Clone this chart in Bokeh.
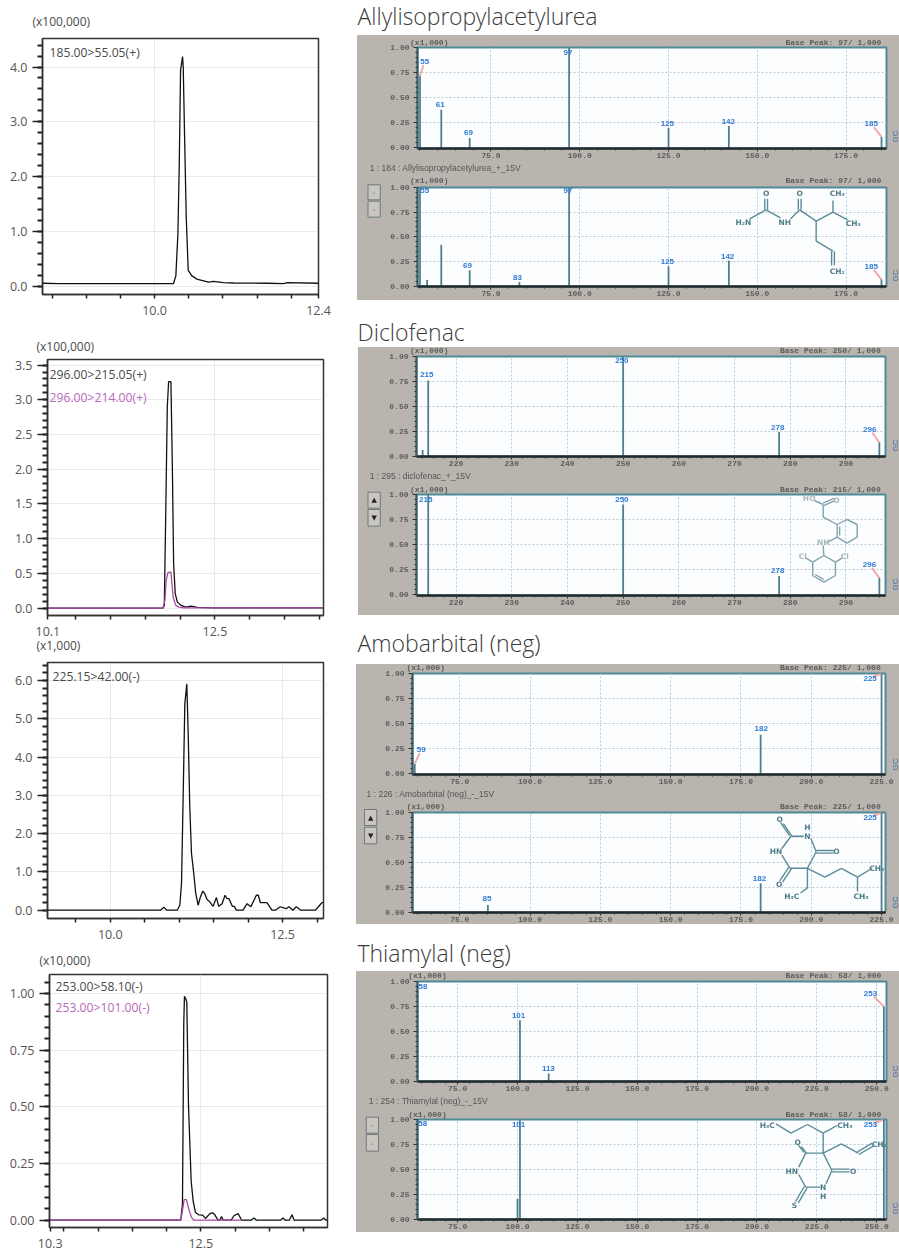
from bokeh.plotting import figure
from bokeh.layouts import row, column
from bokeh.models import (FixedTicker, Label, Spacer)
from bokeh.core.properties import value
from bokeh.embed import file_html
from bokeh.resources import INLINE

# ---------- chromatogram data ----------
c1_t = [8.36, 8.6, 9.0, 9.5, 10.0, 10.278, 10.312, 10.342, 10.361, 10.381, 10.41, 10.42, 10.439, 10.464, 10.493,
        10.547, 10.62, 10.717, 10.79, 10.864, 11.01, 11.157, 11.645, 11.889, 11.94, 12.4]
c1_y = [0.055, 0.05, 0.05, 0.05, 0.05, 0.05, 0.19, 0.955, 2.17, 3.94, 4.19, 4.0, 2.78, 1.26, 0.29,
        0.19, 0.13, 0.10, 0.075, 0.09, 0.067, 0.06, 0.055, 0.05, 0.065, 0.055]

c2_t = [10.1, 11.754, 11.773, 11.79, 11.816, 11.835, 11.868, 11.888, 11.907, 11.93, 11.96, 12.007, 12.08, 12.16, 12.246, 12.486, 14.06]
c2_y = [0.0, 0.0, 0.04, 1.12, 2.9, 3.26, 3.26, 2.08, 0.64, 0.21, 0.09, 0.043, 0.015, 0.03, 0.01, 0.005, 0.005]
c2m_t = [10.1, 11.754, 11.782, 11.80, 11.825, 11.868, 11.883, 11.90, 11.935, 11.983, 12.055, 14.06]
c2m_y = [0.0, 0.0, 0.115, 0.40, 0.51, 0.52, 0.355, 0.16, 0.043, 0.015, 0.005, 0.005]

c3_t = [9.09, 10.729, 10.777, 10.816, 10.97, 11.009, 11.033, 11.057, 11.081, 11.11, 11.129, 11.153, 11.178, 11.211, 11.24,
        11.274, 11.308, 11.342, 11.371, 11.404, 11.443, 11.491, 11.54, 11.573, 11.622, 11.665, 11.694, 11.723, 11.771, 11.80,
        11.829, 11.926, 11.984, 12.04, 12.119, 12.148, 12.177, 12.273, 12.346, 12.394, 12.466, 12.553, 12.592, 12.65, 12.698,
        12.766, 12.973, 13.021, 13.07, 13.094]
c3_y = [0.0, 0.0, 0.08, 0.0, 0.0, 0.13, 0.70, 2.96, 5.39, 5.91, 4.70, 2.70, 1.48, 0.96, 0.43,
        0.13, 0.35, 0.50, 0.43, 0.28, 0.22, 0.10, 0.33, 0.10, 0.17, 0.39, 0.30, 0.30, 0.10, 0.10,
        0.0, 0.0, 0.17, 0.09, 0.39, 0.39, 0.20, 0.20, 0.0, 0.0, 0.09, 0.04, 0.09, 0.0, 0.09,
        0.0, 0.0, 0.09, 0.20, 0.20]

c4_t = [10.29, 12.207, 12.232, 12.251, 12.261, 12.28, 12.295, 12.32, 12.359, 12.388, 12.422, 12.471, 12.524, 12.568, 12.632,
        12.671, 12.705, 12.749, 12.778, 12.802, 12.827, 12.944, 12.983, 13.046, 13.095, 13.237, 13.276, 13.31, 13.666, 13.7,
        13.729, 13.793, 13.832, 13.861, 14.261, 14.295, 14.324, 14.35]
c4_y = [0.0, 0.0, 0.07, 0.868, 0.988, 0.977, 0.962, 0.505, 0.171, 0.084, 0.033, 0.023, 0.022, 0.007, 0.028,
        0.032, 0.023, 0.0, 0.0, 0.015, 0.0, 0.0, 0.019, 0.028, 0.0, 0.0, 0.009, 0.0, 0.0, 0.009,
        0.0, 0.0, 0.023, 0.0, 0.0, 0.009, 0.0, 0.0]
c4m_t = [10.29, 12.207, 12.232, 12.256, 12.29, 12.324, 12.363, 12.398, 13.105]
c4m_y = [0.0, 0.0, 0.041, 0.09, 0.09, 0.048, 0.012, 0.0, 0.0]

# ---------- spectra data: m/z, relative intensity, peak labels ----------
s1a_mz = [55, 61, 69, 97, 125, 142, 185]
s1a_i = [0.72, 0.38, 0.10, 1.0, 0.20, 0.22, 0.11]
s1a_lab = ["55", "61", "69", "97", "125", "142", "185"]
s1b_mz = [55, 57, 61, 69, 83, 97, 125, 142, 185]
s1b_i = [1.0, 0.06, 0.42, 0.16, 0.04, 1.0, 0.20, 0.26, 0.065]
s1b_lab = ["55", "", "", "69", "83", "97", "125", "142", "185"]

s2a_mz = [214, 215, 250, 278, 296]
s2a_i = [0.06, 0.76, 1.0, 0.24, 0.135]
s2a_lab = ["", "215", "250", "278", "296"]
s2b_mz = [215, 250, 278, 296]
s2b_i = [1.0, 0.90, 0.19, 0.17]
s2b_lab = ["215", "250", "278", "296"]

s3a_mz = [59, 182, 225]
s3a_i = [0.10, 0.39, 1.0]
s3a_lab = ["59", "182", "225"]
s3b_mz = [85, 182, 225]
s3b_i = [0.07, 0.29, 1.0]
s3b_lab = ["85", "182", "225"]

s4a_mz = [58, 101, 113, 253]
s4a_i = [1.0, 0.61, 0.075, 0.75]
s4a_lab = ["58", "101", "113", "253"]
s4b_mz = [58, 100, 101, 253]
s4b_i = [1.0, 0.20, 1.0, 1.0]
s4b_lab = ["58", "", "101", "253"]

titles = ["Allylisopropylacetylurea", "Diclofenac", "Amobarbital (neg)", "Thiamylal (neg)"]
captions = ["1 : 184 : Allylisopropylacetylurea_+_15V", "1 : 295 : diclofenac_+_15V",
            "1 : 226 : Amobarbital (neg)_-_15V", "1 : 254 : Thiamylal (neg)_-_15V"]

FONT = "Open Sans"
INK = "#4a4a4a"
MAG = "#b768bb"
MAGL = "#a84aa8"
LEFTW = 356
PAGE_W, PAGE_H = 899, 1250
GRAY = "#b9b5ae"

# texts and buttons that lie outside a plot frame go on full-page overlays
unit_texts = []
mono_left, mono_right, caption_texts, button_marks, edge_texts, button_boxes = [], [], [], [], [], []


def mapper(lo, hi, a, b):
    return lambda v: a + (v - lo) / (hi - lo) * (b - a)


def chrom(region, frame, xr, yr, xmajor, xlabels, xminor, ymajor, yminor, yfmt, traces, texts, unit):
    top, bottom = region
    fl, fr, ft, fb = frame
    p = figure(width=LEFTW, height=bottom - top, x_range=xr, y_range=yr, output_backend="svg",
               toolbar_location=None, min_border_left=fl, min_border_right=LEFTW - fr,
               min_border_top=ft - top, min_border_bottom=bottom - fb, frame_align=False)
    p.outline_line_color = "#333333"
    p.outline_line_width = 1.5
    p.background_fill_color = "white"
    fx = mapper(fl, fr, *xr)
    fy = mapper(fb, ft, *yr)
    for ax in (p.xaxis[0], p.yaxis[0]):
        ax.axis_line_color = "#333333"
        ax.axis_line_width = 1.5
        ax.major_tick_line_color = "#222222"
        ax.minor_tick_line_color = "#222222"
        ax.major_label_text_font = FONT
        ax.major_label_text_font_size = "12.5px"
        ax.major_label_text_color = "#555555"
        ax.major_tick_in = 0
        ax.minor_tick_in = 0
    xa = p.xaxis[0]
    xa.ticker = FixedTicker(ticks=xmajor, minor_ticks=xminor)
    xa.major_label_overrides = {k: v for k, v in zip(xmajor, xlabels)}
    xa.major_tick_out = 4
    xa.minor_tick_out = 4
    xa.major_tick_line_width = 1.5
    xa.minor_tick_line_width = 1.5
    xa.major_label_standoff = 7
    ya = p.yaxis[0]
    ya.ticker = FixedTicker(ticks=ymajor, minor_ticks=yminor)
    ya.major_label_overrides = {k: yfmt % k for k in ymajor}
    ya.major_tick_out = 10
    ya.minor_tick_out = 5
    ya.major_tick_line_width = 1.5
    ya.minor_tick_line_width = 2
    ya.major_label_standoff = 5
    p.grid.grid_line_color = "#d4d4d4"
    p.grid.grid_line_dash = "1 1"
    p.grid.grid_line_width = 1
    for t, y, c in traces:
        p.line(t, y, line_color=c, line_width=1.3)
    for txt, px, py, c in texts:
        p.add_layout(Label(x=fx(px), y=fy(py), text=txt, text_font=FONT, text_font_size="12.2px",
                           text_color=c, text_baseline="middle", text_align="left"))
    unit_texts.append(unit)
    return p


def spectrum(fleft, region, frame, off, xr, xmajor, xminor, xfmt, mz, inten, labs, lblpos, lead, bpeak, caption=None,
             buttons=None, btn_dark=False, bonds=None, atoms=None, edge=None, struct_color="#5a8c9a",
             atom_color="#4f7d8b"):
    top, bottom = region
    fl, fr, ft, fb = frame
    yr = (-0.005, 1.0)
    p = figure(width=899 - fleft, height=bottom - top, x_range=xr, y_range=yr, output_backend="svg",
               toolbar_location=None, min_border_left=fl - fleft, min_border_right=899 - fr,
               min_border_top=ft - top, min_border_bottom=bottom - fb, frame_align=False,
               border_fill_color=GRAY, background_fill_color="#fcfdfe")
    p.stylesheets = [":host { filter: blur(0.55px); }"]
    p.outline_line_color = "#4f8a98"
    p.outline_line_width = 2
    fx = mapper(fl, fr, *xr)
    fy = mapper(fb, ft, *yr)
    zx = lambda z: fx(350 + z / 2.856)
    zy = lambda z: fy(off + z / 3.0)
    cx = lambda z: 350 + z / 2.856
    cy = lambda z: off + z / 3.0
    for ax in (p.xaxis[0], p.yaxis[0]):
        ax.major_label_text_font = "Liberation Mono"
        ax.major_label_text_font_style = "bold"
        ax.major_label_text_font_size = "8px"
        ax.major_label_text_color = "#5c5c5c"
        ax.major_tick_in = 0
        ax.minor_tick_in = 0
        ax.major_tick_line_color = "#333333"
        ax.minor_tick_line_color = "#333333"
        ax.major_tick_line_width = 1
        ax.minor_tick_line_width = 1
    xa = p.xaxis[0]
    xa.ticker = FixedTicker(ticks=xmajor, minor_ticks=xminor)
    xa.major_label_overrides = {k: xfmt % k for k in xmajor}
    xa.axis_line_color = "#20282c"
    xa.axis_line_width = 2.5
    xa.major_tick_out = 3
    xa.minor_tick_out = 2
    xa.major_label_standoff = 1
    ya = p.yaxis[0]
    ym = [0.0, 0.25, 0.5, 0.75, 1.0]
    ya.ticker = FixedTicker(ticks=ym, minor_ticks=[i * 0.05 for i in range(21)])
    ya.major_label_overrides = {k: "%.2f" % k for k in ym}
    ya.axis_line_color = "#3c5a64"
    ya.axis_line_width = 2
    ya.major_tick_out = 4
    ya.minor_tick_out = 2
    ya.major_label_standoff = 4
    p.xgrid.grid_line_color = "#a6cfe2"
    p.xgrid.grid_line_dash = "2 2"
    p.ygrid.grid_line_color = "#bcc8d0"
    p.ygrid.grid_line_dash = "2 2"

    # leaders, then bars, then labels
    lx0, ly0, lx1, ly1 = [], [], [], []
    tx, ty, tt = [], [], []
    for m, i, lab, pos, ld in zip(mz, inten, labs, lblpos, lead):
        if lab:
            x, y = zx(pos[0]), zy(pos[1])
            tx.append(x)
            ty.append(y)
            tt.append(lab)
            if ld:
                lx0.append(m)
                ly0.append(i)
                lx1.append(m + (x - m) * 0.75)
                ly1.append(i + (y - i) * 0.75)
    p.segment(lx0, ly0, lx1, ly1, line_color="#f4a9a9", line_width=2)
    p.segment(mz, [0] * len(mz), mz, inten, line_color="#4f7f8c", line_width=1.8)
    p.text(tx, ty, text=tt, text_font=value("Liberation Sans"), text_font_style="bold", text_font_size="8px",
           text_color="#2f7ad6", text_align="center", text_baseline="middle")

    if bonds:
        p.segment([zx(b[0]) for b in bonds], [zy(b[1]) for b in bonds],
                  [zx(b[2]) for b in bonds], [zy(b[3]) for b in bonds], line_color=struct_color, line_width=1.4)
    if atoms:
        p.text([zx(a[1]) for a in atoms], [zy(a[2]) for a in atoms], text=[a[0] for a in atoms],
               text_font=value("DejaVu Sans"), text_font_size="7.5px", text_font_style="bold",
               text_color=atom_color, text_align="center", text_baseline="middle")

    mono_left.append((cx(bpeak[0]), cy(bpeak[2]), "(x1,000)"))
    mono_right.append((cx(bpeak[1]), cy(bpeak[2]), bpeak[3]))
    if caption:
        caption_texts.append((cx(caption[1]), cy(caption[2]), caption[0]))
    if buttons:
        zl, zr, rows = buttons
        for i, (a, b) in enumerate(rows):
            button_boxes.append((cx(zl), cx(zr), cy(a), cy(b)))
            mark = ("\u25b2" if i == 0 else "\u25bc") if btn_dark else "-"
            button_marks.append((cx((zl + zr) / 2), cy((a + b) / 2), mark, "#222222" if btn_dark else "#555555"))
    if edge is not None:
        edge_texts.append((895, edge, "GC"))
    return p


def title_fig(text, h, yc):
    p = figure(width=543, height=h, x_range=(0, 543), y_range=(h, 0), output_backend="svg", toolbar_location=None,
               min_border_left=0, min_border_right=0, min_border_top=0, min_border_bottom=0,
               outline_line_color=None, frame_align=False, x_axis_location=None, y_axis_location=None)
    p.grid.visible = False
    p.add_layout(Label(x=1, y=yc, text=text, text_font="Open Sans Light, Open Sans", text_font_size="23px",
                       text_color="#3a3a3a", text_baseline="middle", text_align="left"))
    return p


def overlay():
    p = figure(width=PAGE_W, height=PAGE_H, x_range=(0, PAGE_W), y_range=(PAGE_H, 0), output_backend="svg",
               toolbar_location=None, min_border_left=0, min_border_right=0, min_border_top=0, min_border_bottom=0,
               outline_line_color=None, frame_align=False, x_axis_location=None, y_axis_location=None,
               background_fill_color=None, border_fill_color=None)
    p.grid.visible = False
    p.margin = (-PAGE_H, 0, 0, 0)
    return p


def cols(items):
    return [[it[k] for it in items] for k in range(len(items[0]))]


def panel(a, b, w):
    col = column(a, b, styles={"background-color": GRAY})
    if w == 0:
        return col
    return row(Spacer(width=w, height=a.height + b.height), col)


def dbl(x0, y0, x1, y1, dx=4, dy=0):
    return [(x0 - dx, y0 - dy, x1 - dx, y1 - dy), (x0 + dx, y0 + dy, x1 + dx, y1 + dy)]


# ---------- left column ----------
ch1 = chrom((0, 322), (42, 318, 38, 294), (8.36, 12.4), (-0.15, 4.52),
            [10.0, 12.4], ["10.0", "12.4"], [8.5, 9.0, 9.5, 10.5, 11.0, 11.5, 12.0],
            [0.0, 1.0, 2.0, 3.0, 4.0], [i * 0.2 for i in range(23)], "%.1f",
            [(c1_t, c1_y, "#111111")], [("185.00>55.05(+)", 49, 52, INK)], (32, 21, "(x100,000)"))
ch2 = chrom((322, 638), (47, 323, 359, 615), (10.095, 14.06), (-0.106, 3.58),
            [10.1, 12.5], ["10.1", "12.5"], [10.5, 11.0, 11.5, 12.0, 13.0, 13.5, 14.0],
            [0.0, 0.5, 1.0, 1.5, 2.0, 2.5, 3.0, 3.5], [i * 0.1 for i in range(36)], "%.1f",
            [(c2_t, c2_y, "#111111"), (c2m_t, c2m_y, MAGL)],
            [("296.00>215.05(+)", 49, 374, INK), ("296.00>214.00(+)", 49, 397, MAG)], (36, 346, "(x100,000)"))
ch3 = chrom((638, 944), (47, 323, 662, 918), (9.088, 13.094), (-0.217, 6.47),
            [10.0, 12.5], ["10.0", "12.5"], [9.5, 10.5, 11.0, 11.5, 12.0, 13.0],
            [0.0, 1.0, 2.0, 3.0, 4.0, 5.0, 6.0], [i * 0.2 for i in range(33)], "%.1f",
            [(c3_t, c3_y, "#111111")], [("225.15>42.00(-)", 52, 676, INK)], (36, 645, "(x1,000)"))
ch4 = chrom((944, 1250), (49, 327, 974, 1230), (10.29, 14.35), (-0.033, 1.084),
            [10.3, 12.5], ["10.3", "12.5"], [10.5, 11.0, 11.5, 12.0, 13.0, 13.5, 14.0],
            [0.0, 0.25, 0.5, 0.75, 1.0], [i * 0.05 for i in range(22)], "%.2f",
            [(c4_t, c4_y, "#111111"), (c4m_t, c4m_y, MAGL)],
            [("253.00>58.10(-)", 55, 986, INK), ("253.00>101.00(-)", 55, 1007, MAG)], (39, 960, "(x10,000)"))

# ---------- structures (drawing coordinates) ----------
st1_b = [(1140, 655, 1187, 628), *dbl(1187, 628, 1187, 595), (1187, 628, 1228, 652), (1257, 655, 1283, 628),
         *dbl(1283, 628, 1283, 595), (1283, 628, 1330, 662), (1330, 662, 1378, 635), (1378, 635, 1378, 600),
         (1378, 635, 1420, 658), (1330, 662, 1330, 722), (1330, 722, 1378, 752), *dbl(1378, 752, 1378, 795)]
st1_a = [("H\u2082N", 1122, 665), ("O", 1187, 578), ("NH", 1240, 665), ("O", 1283, 578), ("CH\u2083", 1390, 580),
         ("CH\u2083", 1436, 668), ("CH\u2082", 1390, 812)]
st2_b = [(1325, 540, 1350, 552), *dbl(1350, 552, 1382, 537, 0, 4), (1350, 552, 1350, 590), (1350, 590, 1390, 612),
         (1390, 612, 1418, 597), (1418, 597, 1447, 612), (1447, 612, 1447, 650), (1447, 650, 1418, 668),
         (1418, 668, 1390, 650), (1390, 650, 1390, 612), (1397, 618, 1397, 645), (1390, 650, 1358, 668),
         (1350, 675, 1352, 705), (1352, 705, 1385, 725), (1385, 725, 1385, 765), (1385, 765, 1352, 785),
         (1352, 785, 1320, 765), (1320, 765, 1320, 725), (1320, 725, 1352, 705), (1352, 777, 1327, 762),
         (1320, 725, 1300, 712), (1385, 725, 1405, 712)]
st2_a = [("HO", 1310, 535), ("O", 1388, 540), ("NH", 1350, 667), ("Cl", 1292, 708), ("Cl", 1412, 708)]
st3_b = [(1258, 618, 1295, 618), (1315, 625, 1330, 665), (1330, 665, 1305, 715), (1305, 715, 1255, 715),
         (1255, 715, 1232, 675), (1232, 655, 1258, 618), *dbl(1258, 618, 1232, 578, 4, 2), *dbl(1330, 665, 1380, 665, 0, 4),
         *dbl(1255, 715, 1230, 755, 4, 2), (1305, 715, 1355, 742), (1355, 742, 1402, 715), (1402, 715, 1448, 742),
         (1448, 742, 1490, 715), (1448, 742, 1448, 785), (1305, 715, 1305, 775), (1305, 775, 1285, 790)]
st3_a = [("H", 1305, 592), ("N", 1305, 618), ("O", 1226, 567), ("HN", 1215, 665), ("O", 1388, 665), ("O", 1224, 765),
         ("CH\u2083", 1503, 715), ("CH\u2083", 1458, 800), ("H\u2083C", 1260, 800)]
st4_b = [(1350, 638, 1375, 690), (1375, 690, 1358, 730), (1342, 740, 1300, 740), (1300, 740, 1280, 702),
         (1280, 680, 1300, 638), (1300, 638, 1350, 638), *dbl(1300, 638, 1283, 616, 4, 2), *dbl(1375, 690, 1425, 690, 0, 4),
         *dbl(1300, 740, 1275, 785, 4, 2), (1350, 638, 1350, 578), (1350, 578, 1390, 555), (1350, 578, 1305, 552),
         (1305, 552, 1258, 578), (1258, 578, 1215, 550), (1350, 638, 1402, 610), (1402, 610, 1450, 638),
         *dbl(1450, 638, 1492, 612, 2, 4)]
st4_a = [("O", 1277, 607), ("O", 1436, 692), ("HN", 1260, 692), ("N", 1350, 742), ("H", 1350, 768), ("S", 1268, 795),
         ("CH\u2083", 1412, 555), ("H\u2083C", 1190, 555), ("CH\u2082", 1510, 612)]

# ---------- spectra ----------
f5 = lambda a, b: [float(v) for v in range(a, b + 1, 5)]
t75 = [75.0, 100.0, 125.0, 150.0, 175.0]
P1 = dict(fleft=357, off=0, xr=(54.3, 186.4), xmajor=t75, xminor=f5(55, 185), xfmt="%.1f")
s1a = spectrum(region=(35, 175), frame=(417, 886, 47, 148), mz=s1a_mz, inten=s1a_i, labs=s1a_lab,
               lblpos=[(212, 183), (256, 313), (337, 396), (621, 155), (905, 369), (1079, 364), (1487, 369)],
               lead=[1, 0, 0, 0, 0, 0, 1], bpeak=(170, 1530, 125, "Base Peak: 97/  1,000"),
               caption=(captions[0], 55, 502), edge=136, **P1)
s1b = spectrum(region=(175, 300), frame=(417, 886, 187, 286), mz=s1b_mz, inten=s1b_i, labs=s1b_lab,
               lblpos=[(212, 571), None, None, (334, 796), (477, 830), (621, 571), (905, 784), (1077, 767), (1487, 798)],
               lead=[0, 0, 0, 0, 0, 0, 0, 0, 1], bpeak=(170, 1530, 541, "Base Peak: 97/  1,000"),
               buttons=(50, 85, [(553, 598), (602, 650)]), bonds=st1_b, atoms=st1_a, edge=275, **P1)

t2 = [220.0, 230.0, 240.0, 250.0, 260.0, 270.0, 280.0, 290.0]
P2 = dict(fleft=358, off=320, xr=(212.9, 297.1), xmajor=t2, xminor=[float(v) for v in range(214, 297, 2)], xfmt="%.0f")
s2a = spectrum(region=(347, 483), frame=(416, 885, 356, 456), mz=s2a_mz, inten=s2a_i, labs=s2a_lab,
               lblpos=[None, (218, 162), (775, 120), (1220, 320), (1483, 326)],
               lead=[0, 0, 0, 0, 1], bpeak=(170, 1528, 91, "Base Peak: 250/  1,000"),
               caption=(captions[1], 55, 467), edge=445, **P2)
s2b = spectrum(region=(483, 615), frame=(416, 885, 494, 595), mz=s2b_mz, inten=s2b_i, labs=s2b_lab,
               lblpos=[(215, 536), (775, 536), (1220, 750), (1482, 732)],
               lead=[0, 0, 0, 1], bpeak=(170, 1528, 506, "Base Peak: 215/  1,000"),
               buttons=(50, 85, [(515, 563), (567, 617)]), btn_dark=True, bonds=st2_b, atoms=st2_a, edge=584,
               struct_color="#7fa3ae", atom_color="#a9b8bd", **P2)

t3 = [75.0, 100.0, 125.0, 150.0, 175.0, 200.0, 225.0]
P3 = dict(fleft=356, off=630, xr=(58.2, 226.4), xmajor=t3, xminor=f5(60, 225), xfmt="%.1f")
s3a = spectrum(region=(664, 801), frame=(412, 885, 673, 774), mz=s3a_mz, inten=s3a_i, labs=s3a_lab,
               lblpos=[(202, 357), (1173, 293), (1484, 143)],
               lead=[1, 0, 1], bpeak=(160, 1528, 111, "Base Peak: 225/  1,000"),
               caption=(captions[2], 46, 489), edge=764, **P3)
s3b = spectrum(region=(801, 924), frame=(412, 885, 812, 913), mz=s3b_mz, inten=s3b_i, labs=s3b_lab,
               lblpos=[(390, 808), (1168, 746), (1484, 560)],
               lead=[0, 0, 1], bpeak=(160, 1528, 528, "Base Peak: 225/  1,000"),
               buttons=(40, 75, [(537, 585), (590, 640)]), btn_dark=True, bonds=st3_b, atoms=st3_a, edge=902, **P3)

t4 = [75.0, 100.0, 125.0, 150.0, 175.0, 200.0, 225.0, 250.0]
P4 = dict(fleft=356, off=940, xr=(58.2, 254.1), xmajor=t4, xminor=f5(60, 250), xfmt="%.1f")
s4a = spectrum(region=(971, 1108), frame=(417, 886, 981, 1081), mz=s4a_mz, inten=s4a_i, labs=s4a_lab,
               lblpos=[(207, 137), (480, 224), (565, 384), (1485, 158)],
               lead=[0, 0, 0, 1], bpeak=(165, 1530, 105, "Base Peak: 58/  1,000"),
               caption=(captions[3], 52, 482), edge=1071, **P4)
s4b = spectrum(region=(1108, 1232), frame=(417, 886, 1119, 1219), mz=s4b_mz, inten=s4b_i, labs=s4b_lab,
               lblpos=[(206, 550), None, (480, 551), (1485, 551)],
               lead=[0, 0, 0, 1], bpeak=(165, 1530, 521, "Base Peak: 58/  1,000"),
               buttons=(45, 80, [(530, 578), (582, 632)]), bonds=st4_b, atoms=st4_a, edge=1208, **P4)

left = column(ch1, ch2, ch3, ch4)
right = column(
    title_fig(titles[0], 35, 15.7), panel(s1a, s1b, 1),
    title_fig(titles[1], 47, 31), panel(s2a, s2b, 2),
    title_fig(titles[2], 49, 27), panel(s3a, s3b, 0),
    title_fig(titles[3], 47, 28), panel(s4a, s4b, 0),
)

# ---------- overlays: scale units (sharp), panel texts and buttons (slightly soft) ----------
ov1 = overlay()
ux, uy, ut = cols(unit_texts)
ov1.text(ux, uy, text=ut, text_font=value(FONT), text_font_size="12px", text_color=INK,
         text_baseline="middle", text_align="left")

ov2 = overlay()
ov2.stylesheets = [":host { filter: blur(0.45px); }"]
bl, br, bt, bb = cols(button_boxes)
ov2.quad(left=bl, right=br, top=bt, bottom=bb, fill_color="#c9c6bf", line_color="#6f7a7c", line_width=1)
mx, my, mt, mc = cols(button_marks)
ov2.text(mx, my, text=mt, text_color=mc, text_font=value("DejaVu Sans"), text_font_size="7px",
         text_align="center", text_baseline="middle")
mono_style = dict(text_font=value("Liberation Mono"), text_font_style="bold", text_font_size="8px",
                  text_color="#5c5c5c", text_baseline="middle")
lx, ly, lt = cols(mono_left)
ov2.text(lx, ly, text=lt, text_align="left", **mono_style)
rx, ry, rt = cols(mono_right)
ov2.text(rx, ry, text=rt, text_align="right", **mono_style)
cx_, cy_, ct = cols(caption_texts)
ov2.text(cx_, cy_, text=ct, text_font=value("Liberation Sans"), text_font_size="8.5px", text_color="#555555",
         text_baseline="middle", text_align="left")
ex, ey, et = cols(edge_texts)
ov2.text(ex, ey, text=et, text_font=value("Liberation Sans"), text_font_size="8px", text_color="#3a6fb5",
         text_baseline="middle", text_align="center", angle=1.5708)

page = column(row(left, right), ov1, ov2)
open("out.html", "w").write(file_html(page, INLINE))
